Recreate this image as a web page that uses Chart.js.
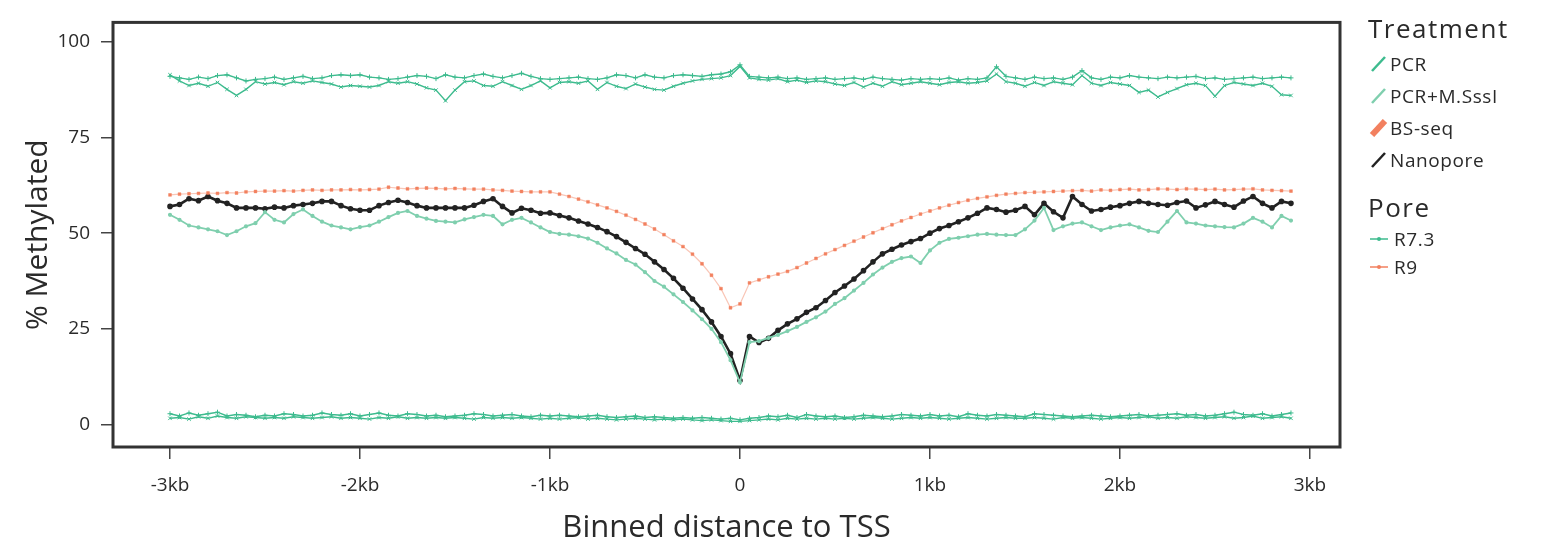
<!DOCTYPE html>
<html>
<head>
<meta charset="utf-8">
<script src="https://cdn.jsdelivr.net/npm/chart.js@4/dist/chart.umd.min.js"></script>
<style>
  body { margin: 0; background: #fff; font-family: "Open Sans", "Noto Sans", sans-serif; }
  #wrap { position: relative; width: 1545px; height: 551px; }
  #legend { position: absolute; left: 1368px; top: 12px; color: #2a2a2a; }
  #legend .ttl { font-size: 26px; line-height: 32px; letter-spacing: 1.5px; }
  #legend .it { font-size: 19px; height: 32px; line-height: 32px; letter-spacing: 0.6px; display: flex; align-items: center; }
  #legend .it svg { margin-right: 2px; }
</style>
</head>
<body>
<div id="wrap">
  <canvas id="chart" width="1545" height="551"></canvas>
  <div id="legend"></div>
</div>
<script>
// bin starts, 50 bp bins from -3kb
const bins = Array.from({ length: 119 }, (_, i) => -3000 + 50 * i);
const xTicks = [-3000, -2000, -1000, 0, 1000, 2000, 3000];
const yTicks = [0, 25, 50, 75, 100];

const sssiR73 = [
  91, 90.6, 90.2, 90.8, 90.4, 91.2, 91.4, 90.6, 89.8, 90.2,
  90.4, 90.8, 90.2, 90.6, 91, 90.4, 90.6, 91.2, 91.4, 91.2,
  91.4, 90.8, 90.6, 90.2, 90.4, 90.8, 91.2, 91, 90.4, 91.4,
  90.8, 90.6, 91.2, 91.6, 91, 90.6, 91.2, 91.8, 91, 90.4,
  90.2, 90.4, 90.6, 90.8, 90.4, 90.2, 90.6, 91.4, 91.2, 90.6,
  91.4, 90.8, 90.6, 91.2, 91.4, 91.2, 91, 91.4, 91.6, 92.2,
  94,
  91, 90.8, 90.6, 90.8, 90.4, 90.6, 90.2, 90.4, 90.6,
  90.2, 90.4, 90.6, 90.2, 90.8, 90.4, 90.2, 90, 90.4, 90.2,
  90.4, 90.2, 90.6, 90, 90.4, 90.2, 90.6, 93.5, 91, 90.6,
  90.2, 90.8, 90.4, 90.6, 90.2, 90.8, 92.5, 90.6, 90.2, 90.8,
  90.6, 91.2, 90.8, 90.6, 90.4, 90.8, 90.6, 90.8, 91, 90.4,
  90.6, 90.2, 90.4, 90.6, 90.8, 90.4, 90.6, 90.8, 90.6
];
const sssiR9 = [
  91.4, 89.8, 88.6, 89.2, 88.4, 89.4, 87.6, 86, 87.6, 89.6,
  89, 89.4, 88.8, 89.6, 89.2, 89.8, 89.4, 89, 88.2, 88.6,
  88.4, 88.2, 88.6, 89.6, 89.2, 89.6, 89, 88, 87.4, 84.6,
  87.4, 89.6, 89.8, 88.6, 88.4, 89.6, 88.6, 87.6, 88.6, 89.8,
  88, 89.4, 89.6, 89.2, 89.8, 87.6, 89.4, 88.4, 87.8, 89,
  88.2, 87.6, 87.4, 88.4, 89.2, 89.8, 90.2, 90.4, 90.6, 91.2,
  93.6,
  90.6, 90.2, 90, 90.4, 89.6, 90, 89.4, 89.8, 89.6,
  89, 88.6, 89.4, 88.2, 89.2, 88.4, 89.6, 88.8, 89.2, 89.6,
  89.2, 88.8, 89.4, 89.6, 89.2, 89.4, 89.8, 91.6, 89.6, 89.2,
  88.4, 89.4, 88.6, 89.6, 89.2, 88.8, 91.2, 89.2, 88.6, 89.4,
  89, 88.6, 86.8, 87.4, 85.6, 86.8, 87.8, 88.8, 89.2, 88.6,
  85.8, 88.6, 89.4, 89, 88.6, 89.2, 88.4, 86.2, 86
];
const pcrR73 = [
  2.8, 2.2, 3.0, 2.4, 2.8, 3.2, 2.2, 2.6, 2.4, 2.0,
  2.4, 2.2, 2.8, 2.6, 2.2, 2.4, 3.0, 2.6, 2.4, 2.8,
  2.2, 2.6, 3.0, 2.4, 2.2, 2.8, 2.6, 2.2, 2.4, 2.0,
  2.2, 2.4, 2.8, 2.6, 2.2, 2.4, 2.6, 2.2, 2.0, 2.4,
  2.2, 2.4, 2.2, 2.0, 2.2, 2.4, 2.0, 1.8, 2.0, 2.2,
  1.8, 2.0, 1.8, 1.6, 1.8, 1.6, 1.8, 1.6, 1.4, 1.6,
  1.2,
  1.6, 1.8, 2.2, 2.0, 2.4, 1.8, 2.6, 2.2, 2.0,
  2.2, 1.8, 2.0, 2.4, 2.2, 2.0, 2.2, 2.6, 2.4, 2.2,
  2.6, 2.2, 2.4, 2.0, 2.8, 2.4, 2.2, 2.6, 2.4, 2.2,
  2.0, 2.8, 2.6, 2.4, 2.2, 2.0, 2.2, 2.4, 2.2, 2.0,
  2.2, 2.4, 2.6, 2.2, 2.4, 2.6, 2.8, 2.4, 2.6, 2.2,
  2.4, 2.8, 3.2, 2.6, 2.4, 2.8, 2.2, 2.6, 3.0
];
const pcrR9 = [
  1.6, 1.8, 1.4, 2.0, 1.6, 2.2, 1.8, 1.6, 2.0, 1.8,
  1.6, 1.8, 1.6, 2.0, 1.8, 1.6, 1.8, 2.0, 1.6, 1.8,
  1.6, 1.4, 1.8, 1.6, 2.0, 1.6, 1.8, 1.6, 1.8, 1.6,
  1.8, 1.6, 1.4, 1.8, 1.6, 1.8, 1.6, 1.8, 1.6, 1.4,
  1.6, 1.4, 1.6, 1.8, 1.4, 1.6, 1.4, 1.2, 1.4, 1.6,
  1.4, 1.2, 1.4, 1.2, 1.4, 1.2, 1.0, 1.2, 1.0, 0.8,
  0.8,
  1.0, 1.2, 1.4, 1.2, 1.6, 1.4, 1.6, 1.4, 1.6,
  1.4, 1.6, 1.4, 1.6, 1.8, 1.6, 1.4, 1.6, 1.8, 1.6,
  1.8, 1.6, 1.4, 1.6, 1.8, 1.6, 1.4, 1.6, 1.8, 1.6,
  1.6, 1.8, 1.6, 1.4, 1.8, 1.6, 1.8, 1.6, 1.4, 1.6,
  1.8, 1.6, 1.8, 2.0, 1.6, 1.8, 1.6, 2.0, 1.8, 1.6,
  1.8, 2.0, 1.6, 1.8, 2.2, 1.6, 1.8, 2.0, 1.6
];
const bsSeq = [
  60, 60.2, 60.3, 60.4, 60.5, 60.4, 60.6, 60.5, 60.8, 60.9,
  61, 61, 61.1, 61, 61.2, 61.3, 61.2, 61.3, 61.3, 61.4,
  61.3, 61.4, 61.5, 62, 61.8, 61.6, 61.7, 61.8, 61.7, 61.6,
  61.7, 61.6, 61.5, 61.5, 61.3, 61.2, 61, 60.9, 60.8, 60.8,
  60.8, 60.2, 59.6, 58.9, 58.2, 57.4, 56.6, 55.7, 54.7, 53.6,
  52.4, 51.1, 49.6, 48, 46.5, 44.5, 42, 39, 35.5, 30.5,
  31.5,
  37, 37.8, 38.6, 39.3, 40, 41, 42.2, 43.4, 44.6,
  45.7, 46.8, 47.9, 49, 50.1, 51.2, 52.2, 53.2, 54.1, 55,
  55.8, 56.6, 57.3, 58, 58.6, 59.1, 59.5, 59.9, 60.2, 60.4,
  60.6, 60.7, 60.8, 60.9, 61, 61.1, 61.2, 61, 61.3, 61.2,
  61.4, 61.5, 61.3, 61.4, 61.6, 61.5, 61.4, 61.6, 61.5, 61.4,
  61.5, 61.3, 61.4, 61.5, 61.6, 61.3, 61.2, 61.1, 61
];
const nanoR9 = [
  57, 57.5, 59, 58.5, 59.6, 58.5, 57.8, 56.6, 56.6, 56.6,
  56.4, 56.8, 56.6, 57.2, 57.5, 57.8, 58.3, 58.3, 57.2, 56.4,
  56, 56, 57.2, 58, 58.6, 58, 57.2, 56.6, 56.6, 56.6,
  56.6, 56.6, 57.3, 58.3, 59, 57, 55.3, 56.5, 56, 55.2,
  55.3, 54.6, 54, 53.2, 52.4, 51.5, 50.4, 49.1, 47.6, 46,
  44.5, 42.5, 40.5, 38.2, 35.6, 32.8, 30, 26.8, 23, 18.5,
  11.5,
  23, 21.4, 22.5, 24.6, 26.3, 27.6, 29.3, 30.5, 32.4,
  34.5, 36.2, 38, 40.2, 42.5, 44.6, 45.8, 46.9, 47.8, 48.6,
  50, 51.2, 52, 53, 54, 55.2, 56.6, 56.2, 55.5, 56,
  57, 54.8, 57.8, 55.6, 54, 59.6, 57.5, 55.8, 56.2, 56.8,
  57.2, 57.8, 58.3, 57.8, 57.5, 57.3, 58, 58.4, 56.6, 57.4,
  58.3, 57.5, 56.8, 58.4, 59.6, 57.8, 56.6, 58.3, 57.8
];
const nanoR73 = [
  54.8, 53.5, 52, 51.5, 51, 50.5, 49.5, 50.5, 51.8, 52.6,
  55.5, 53.5, 52.8, 55, 56.2, 54.5, 53, 52, 51.5, 51,
  51.6, 52, 53, 54.2, 55.3, 55.8, 54.5, 53.8, 53.2, 53,
  52.8, 53.6, 54.2, 54.8, 54.5, 52.3, 53.5, 54, 52.8, 51.5,
  50.3, 49.8, 49.6, 49.2, 48.6, 47.5, 46, 44.7, 43, 41.8,
  39.8, 37.5, 36, 34, 32, 29.8, 27.5, 25, 21.5, 16.8,
  11,
  21.5, 21.8, 22.6, 23.4, 24.4, 25.5, 26.8, 28, 29.5,
  31.5, 33, 35, 37, 39.2, 41, 42.5, 43.5, 43.9, 42.2,
  45.5, 47.5, 48.5, 48.8, 49.2, 49.6, 49.8, 49.6, 49.5, 49.5,
  51, 53.3, 56.6, 50.8, 51.8, 52.5, 52.8, 51.8, 50.8, 51.5,
  52, 52.3, 51.5, 50.6, 50.3, 53, 55.8, 52.8, 52.5, 52,
  51.8, 51.6, 51.5, 52.5, 54, 53, 51.5, 54.5, 53.3
];

const green = '#3dbb8e';
const lightGreen = '#7fcfae';
const salmon = '#f2805f';
const black = '#222222';
const textCol = '#2a2a2a';

function pts(vals) {
  return vals.map((v, i) => ({ x: bins[i], y: v }));
}

const frame = {
  id: 'frame',
  afterDraw(chart) {
    const { ctx, chartArea: a } = chart;
    ctx.save();
    ctx.strokeStyle = '#333';
    ctx.lineWidth = 3;
    ctx.strokeRect(a.left, a.top, a.right - a.left, a.bottom - a.top);
    ctx.restore();
  }
};

const ctx = document.getElementById('chart').getContext('2d');
new Chart(ctx, {
  type: 'line',
  data: {
    datasets: [
      { label: 'PCR+M.SssI R7.3', data: pts(sssiR73), borderColor: green, borderWidth: 1.4, pointStyle: 'cross', pointRadius: 2.5, pointBorderColor: green, pointBorderWidth: 1 },
      { label: 'PCR+M.SssI R9', data: pts(sssiR9), borderColor: green, borderWidth: 1.4, pointStyle: 'crossRot', pointRadius: 2.5, pointBorderColor: green, pointBorderWidth: 1 },
      { label: 'PCR R7.3', data: pts(pcrR73), borderColor: green, borderWidth: 1.4, pointStyle: 'cross', pointRadius: 2.5, pointBorderColor: green, pointBorderWidth: 1 },
      { label: 'PCR R9', data: pts(pcrR9), borderColor: green, borderWidth: 1.4, pointStyle: 'crossRot', pointRadius: 2.5, pointBorderColor: green, pointBorderWidth: 1 },
      { label: 'BS-seq', data: pts(bsSeq), borderColor: 'rgba(242,128,95,0.45)', borderWidth: 1.2, pointStyle: 'rect', pointRadius: 2, pointBackgroundColor: salmon, pointBorderColor: salmon, pointBorderWidth: 0.5 },
      { label: 'Nanopore R7.3', data: pts(nanoR73), borderColor: lightGreen, borderWidth: 1.8, pointRadius: 1.2, pointBackgroundColor: lightGreen, pointBorderColor: lightGreen },
      { label: 'Nanopore R9', data: pts(nanoR9), borderColor: black, borderWidth: 2.6, pointRadius: 1.5, pointBackgroundColor: black, pointBorderColor: black }
    ]
  },
  options: {
    responsive: false,
    animation: false,
    layout: { padding: { top: 12, right: 205, left: 0, bottom: 0 } },
    plugins: { legend: { display: false }, tooltip: { enabled: false } },
    elements: { line: { tension: 0 } },
    scales: {
      x: {
        type: 'linear',
        min: -3300,
        max: 3158,
        afterBuildTicks: (s) => { s.ticks = xTicks.map(v => ({ value: v })); },
        afterFit: (s) => { s.height = 104; },
        border: { display: false },
        grid: { drawOnChartArea: false, drawTicks: true, tickLength: 12, color: '#444', lineWidth: 1.5 },
        ticks: {
          padding: 15,
          color: textCol,
          font: { family: 'Open Sans', size: 19 },
          maxRotation: 0,
          callback: (v) => v === 0 ? '0' : (v / 1000) + 'kb'
        },
        title: {
          display: true,
          text: 'Binned distance to TSS',
          color: textCol,
          font: { family: 'Open Sans', size: 31 },
          padding: { top: 0, bottom: 4 }
        }
      },
      y: {
        min: -5.9,
        max: 105.1,
        afterBuildTicks: (s) => { s.ticks = yTicks.map(v => ({ value: v })); },
        afterFit: (s) => { s.width = 113; },
        border: { display: false },
        grid: { drawOnChartArea: false, drawTicks: true, tickLength: 12, color: '#444', lineWidth: 1.5 },
        ticks: {
          padding: 11,
          color: textCol,
          font: { family: 'Open Sans', size: 19 }
        },
        title: {
          display: true,
          text: '% Methylated',
          color: textCol,
          font: { family: 'Open Sans', size: 30 },
          padding: { top: 20, bottom: 0 }
        }
      }
    }
  },
  plugins: [frame]
});

// legend on the right
const treatNames = ['PCR', 'PCR+M.SssI', 'BS-seq', 'Nanopore'];
const treatColors = [green, lightGreen, salmon, black];
const poreNames = ['R7.3', 'R9'];
const poreColors = [green, salmon];

const lg = document.getElementById('legend');
let html = '<div class="ttl" style="margin-bottom:4px">Treatment</div>';
treatNames.forEach((n, i) => {
  html += '<div class="it"><svg width="20" height="18"><line x1="4" y1="16" x2="17" y2="2" stroke="' + treatColors[i] +
    '" stroke-width="' + (i === 2 ? 6 : 2.5) + '"/></svg>' + n + '</div>';
});
html += '<div class="ttl" style="margin-top:15px;margin-bottom:2px">Pore</div>';
poreNames.forEach((n, i) => {
  html += '<div class="it" style="height:28px;line-height:28px"><svg width="24" height="16"><line x1="2" y1="8" x2="20" y2="8" stroke="' + poreColors[i] +
    '" stroke-width="1.5"/><circle cx="11" cy="8" r="2" fill="' + poreColors[i] + '"/></svg>' + n + '</div>';
});
lg.innerHTML = html;
</script>
</body>
</html>
